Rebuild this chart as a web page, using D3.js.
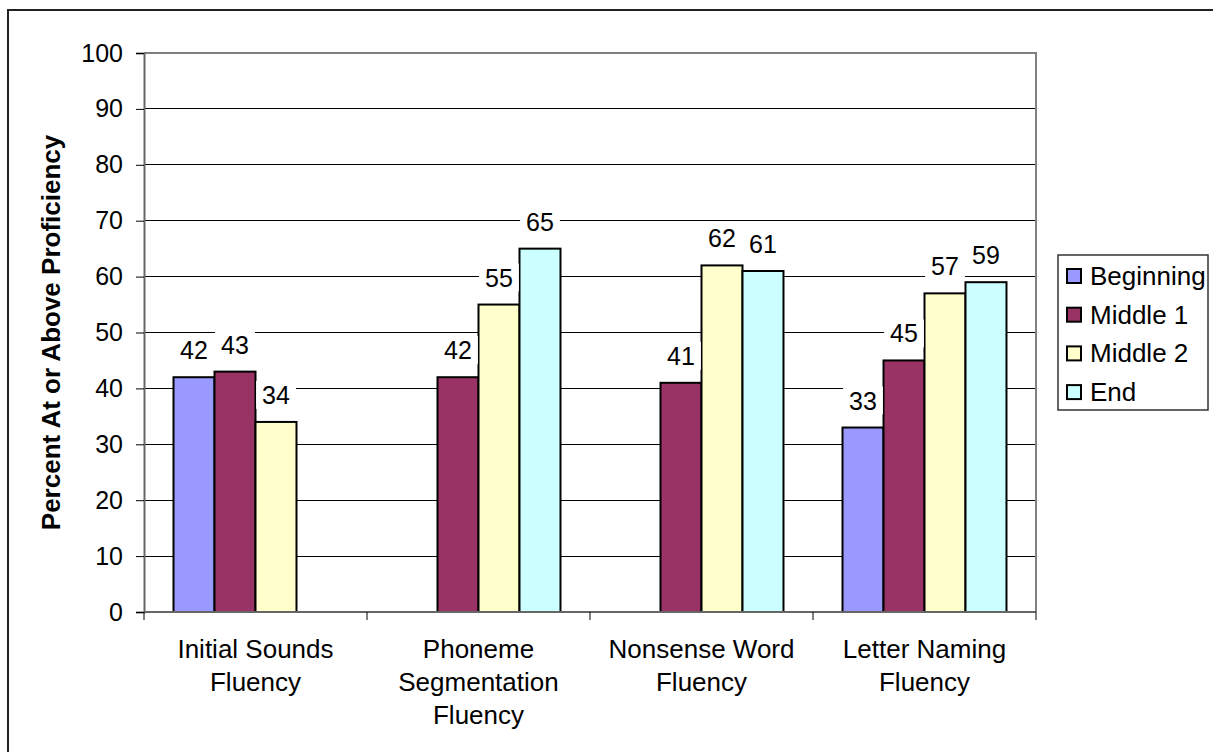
<!DOCTYPE html>
<html>
<head>
<meta charset="utf-8">
<script src="https://cdn.jsdelivr.net/npm/d3@7"></script>
<style>
  html, body { margin: 0; padding: 0; background: #fff; }
  svg { display: block; font-family: "Liberation Sans", Arial, Helvetica, sans-serif; }
</style>
</head>
<body>
<svg id="chart" width="1213" height="752"></svg>
<script>
// Assessment measures (x categories), split over lines for the axis
const categories = [
  "Initial Sounds Fluency",
  "Phoneme Segmentation Fluency",
  "Nonsense Word Fluency",
  "Letter Naming Fluency"
];
const categoryLines = [
  ["Initial Sounds", "Fluency"],
  ["Phoneme", "Segmentation", "Fluency"],
  ["Nonsense Word", "Fluency"],
  ["Letter Naming", "Fluency"]
];

// Assessment periods (series)
const seriesNames = ["Beginning", "Middle 1", "Middle 2", "End"];
const seriesColors = ["#9999FF", "#993366", "#FFFFCC", "#CCFFFF"];

// Percent at or above proficiency, one array per period (null = not given)
const beginning = [42, null, null, 33];
const middle1   = [43, 42, 41, 45];
const middle2   = [34, 55, 62, 57];
const end       = [null, 65, 61, 59];

const yTicks = [0, 10, 20, 30, 40, 50, 60, 70, 80, 90, 100];
const yTitle = "Percent At or Above Proficiency";

const seriesValues = [beginning, middle1, middle2, end];

const svg = d3.select("#chart");

// Outer chart frame
svg.append("rect")
  .attr("x", 8).attr("y", 10)
  .attr("width", 1300).attr("height", 900)
  .attr("fill", "none").attr("stroke", "#222").attr("stroke-width", 2);

const plot = { left: 144, right: 1036, top: 53, bottom: 612 };

const x0 = d3.scaleBand()
  .domain(categories)
  .range([plot.left, plot.right])
  .paddingInner(0).paddingOuter(0);

const x1 = d3.scaleBand()
  .domain(seriesNames)
  .range([0, x0.bandwidth()])
  .paddingInner(0)
  .paddingOuter(0.72);

const y = d3.scaleLinear().domain([0, 100]).range([plot.bottom, plot.top]);

// Horizontal gridlines
svg.append("g")
  .selectAll("line")
  .data(yTicks.filter(t => t > 0 && t < 100))
  .join("line")
  .attr("x1", plot.left).attr("x2", plot.right)
  .attr("y1", d => y(d)).attr("y2", d => y(d))
  .attr("stroke", "#000").attr("stroke-width", 1)
  .attr("shape-rendering", "crispEdges");

// Plot area border (top and right)
svg.append("path")
  .attr("d", `M${plot.left},${plot.top}H${plot.right}V${plot.bottom}`)
  .attr("fill", "none").attr("stroke", "#808080").attr("stroke-width", 2);

// Bars
const barData = [];
categories.forEach((c, ci) => {
  seriesNames.forEach((s, si) => {
    const v = seriesValues[si][ci];
    if (v !== null) barData.push({ category: c, series: s, si, value: v });
  });
});

svg.append("g")
  .selectAll("rect")
  .data(barData)
  .join("rect")
  .attr("x", d => x0(d.category) + x1(d.series))
  .attr("y", d => y(d.value))
  .attr("width", x1.bandwidth())
  .attr("height", d => y(0) - y(d.value))
  .attr("fill", d => seriesColors[d.si])
  .attr("stroke", "#000").attr("stroke-width", 2);

// Y axis
const yAxis = d3.axisLeft(y).tickValues(yTicks).tickSize(8).tickPadding(13);
const gy = svg.append("g")
  .attr("transform", `translate(${plot.left},0)`)
  .call(yAxis);
gy.select(".domain").attr("stroke", "#666").attr("stroke-width", 2);
gy.selectAll(".tick line").attr("stroke", "#000");
gy.selectAll(".tick text")
  .attr("font-size", 25).attr("fill", "#000")
  .attr("font-family", "Liberation Sans, Arial, sans-serif");

// X axis: ticks at category boundaries
const boundaries = categories.map(c => x0(c)).concat([plot.right]);
svg.append("line")
  .attr("x1", plot.left).attr("x2", plot.right)
  .attr("y1", plot.bottom).attr("y2", plot.bottom)
  .attr("stroke", "#666").attr("stroke-width", 2);
svg.append("g")
  .selectAll("line")
  .data(boundaries)
  .join("line")
  .attr("x1", d => d).attr("x2", d => d)
  .attr("y1", plot.bottom).attr("y2", plot.bottom + 8)
  .attr("stroke", "#000").attr("stroke-width", 1);

// Category labels
const catG = svg.append("g")
  .selectAll("text")
  .data(categories)
  .join("text")
  .attr("text-anchor", "middle")
  .attr("font-size", 26)
  .attr("fill", "#000");
catG.each(function(c, i) {
  const cx = x0(c) + x0.bandwidth() / 2;
  d3.select(this).selectAll("tspan")
    .data(categoryLines[i])
    .join("tspan")
    .attr("x", cx)
    .attr("y", (d, j) => 658 + j * 33)
    .text(d => d);
});

// Value labels with white backing
const labels = svg.append("g")
  .selectAll("g")
  .data(barData)
  .join("g");
labels.append("rect").attr("fill", "#fff");
labels.append("text")
  .attr("x", d => x0(d.category) + x1(d.series) + x1.bandwidth() / 2)
  .attr("y", d => y(d.value) - 18)
  .attr("text-anchor", "middle")
  .attr("font-size", 25)
  .attr("fill", "#000")
  .text(d => d.value);
labels.each(function() {
  const g = d3.select(this);
  const bb = g.select("text").node().getBBox();
  g.select("rect")
    .attr("x", bb.x - 6).attr("y", bb.y)
    .attr("width", bb.width + 12).attr("height", bb.height);
});

// Y axis title
svg.append("text")
  .attr("transform", `translate(60,${(plot.top + plot.bottom) / 2}) rotate(-90)`)
  .attr("text-anchor", "middle")
  .attr("font-size", 26)
  .attr("font-weight", "bold")
  .attr("fill", "#000")
  .text(yTitle);

// Legend
const legend = svg.append("g");
legend.append("rect")
  .attr("x", 1058).attr("y", 255)
  .attr("width", 150).attr("height", 155)
  .attr("fill", "#fff").attr("stroke", "#333").attr("stroke-width", 1.5);
const items = legend.selectAll("g.item")
  .data(seriesNames)
  .join("g")
  .attr("class", "item")
  .attr("transform", (d, i) => `translate(1067,${276 + i * 38.7})`);
items.append("rect")
  .attr("x", 0).attr("y", -7)
  .attr("width", 14).attr("height", 14)
  .attr("fill", (d, i) => seriesColors[i])
  .attr("stroke", "#000").attr("stroke-width", 2);
items.append("text")
  .attr("x", 23).attr("y", 9)
  .attr("font-size", 26)
  .attr("fill", "#000")
  .text(d => d);
</script>
</body>
</html>
